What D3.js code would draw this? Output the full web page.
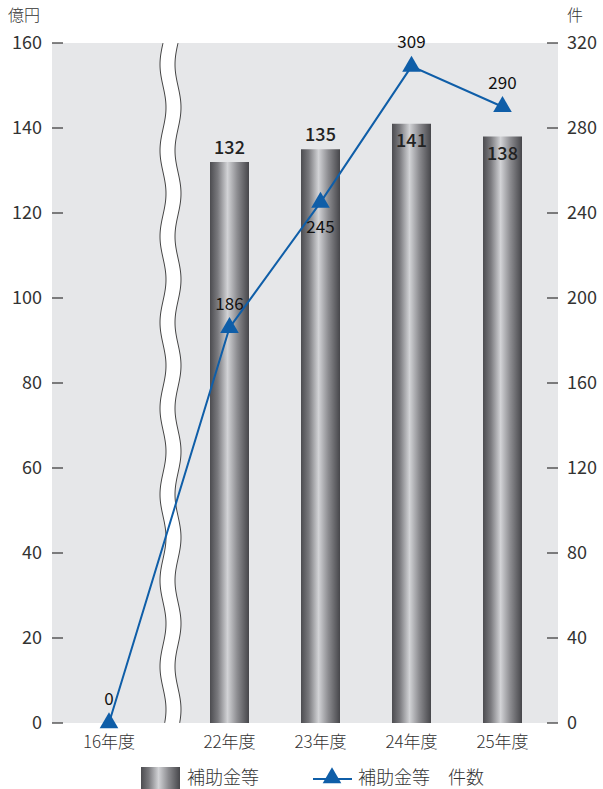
<!DOCTYPE html>
<html><head><meta charset="utf-8">
<script src="https://cdn.jsdelivr.net/npm/d3@7"></script>
<style>
html,body{margin:0;padding:0;background:#fff;}
svg{display:block;}
text{font-family:"Noto Sans CJK JP","Open Sans",sans-serif;}
</style></head>
<body><svg id="c" width="603" height="789"></svg>
<script>
const categories = ["16年度","22年度","23年度","24年度","25年度"];
const amountValues = [null, 132, 135, 141, 138];   // 億円 (bars)
const countValues = [0, 186, 245, 309, 290];       // 件 (line)
const leftTicks = [0,20,40,60,80,100,120,140,160];
const rightTicks = [0,40,80,120,160,200,240,280,320];
const countLabelPos = ["above","above","below","above","above"];
const amountLabelPos = [null,"above","above","inside","inside"];

const svg = d3.select("#c");
const L = 52, R = 558, T = 43, B = 723;
const numFont = "'Open Sans',sans-serif";

const yL = d3.scaleLinear().domain([0,160]).range([B,T]);
const yR = d3.scaleLinear().domain([0,320]).range([B,T]);
// broken axis: first category before the break, others evenly spaced after it
const xAfter = d3.scalePoint().domain(categories.slice(1)).range([229.5, 502.5]);
const x = c => c === categories[0] ? 109 : xAfter(c);
const barW = 39;

const defs = svg.append("defs");
const g = defs.append("linearGradient").attr("id","bg").attr("x1","0").attr("x2","1").attr("y1","0").attr("y2","0");
[[0,"#4c4c50"],[0.2,"#7a7a7e"],[0.45,"#d2d3d6"],[0.7,"#8c8c90"],[1,"#46464a"]].forEach(s=>g.append("stop").attr("offset",s[0]).attr("stop-color",s[1]));

svg.append("rect").attr("x",L).attr("y",T).attr("width",R-L).attr("height",B-T).attr("fill","#e6e7e9");

// break band
const waveY = d3.range(T, B+1, 2);
const amp = 3, period = 86;
const wl = waveY.map(y => [163 + amp*Math.sin((y-T)/period*2*Math.PI + Math.PI), y]);
const wr = waveY.map(y => [178 + amp*Math.sin((y-T)/period*2*Math.PI + Math.PI), y]);
svg.append("path").attr("d", d3.line()(wl.concat(wr.slice().reverse())) + "Z").attr("fill","#fff");
const ln = d3.line().curve(d3.curveBasis);
svg.append("path").attr("d", ln(wl)).attr("fill","none").attr("stroke","#444").attr("stroke-width",1);
svg.append("path").attr("d", ln(wr)).attr("fill","none").attr("stroke","#444").attr("stroke-width",1);

// bars
const barData = categories.map((c,i)=>({c, v:amountValues[i], pos:amountLabelPos[i]})).filter(d=>d.v!=null);
svg.selectAll("rect.bar").data(barData).join("rect").attr("class","bar")
  .attr("x",d=>x(d.c)-barW/2).attr("width",barW)
  .attr("y",d=>yL(d.v)).attr("height",d=>B-yL(d.v)).attr("fill","url(#bg)");

// axes ticks
const ax = svg.append("g");
leftTicks.forEach(t=>{
  ax.append("line").attr("x1",L).attr("x2",L+11).attr("y1",yL(t)).attr("y2",yL(t)).attr("stroke","#333").attr("stroke-width",1.2);
  ax.append("text").attr("x",42).attr("y",yL(t)).attr("dy","0.36em").attr("text-anchor","end")
    .attr("font-family",numFont).attr("font-size",18).attr("fill","#333").text(t);
});
rightTicks.forEach(t=>{
  ax.append("line").attr("x1",R-11).attr("x2",R).attr("y1",yR(t)).attr("y2",yR(t)).attr("stroke","#333").attr("stroke-width",1.2);
  ax.append("text").attr("x",567).attr("y",yR(t)).attr("dy","0.36em").attr("text-anchor","start")
    .attr("font-family",numFont).attr("font-size",18).attr("fill","#333").text(t);
});
svg.append("text").attr("x",8).attr("y",21).attr("font-size",16).attr("font-weight",300).attr("fill","#333").text("億円");
svg.append("text").attr("x",567).attr("y",21).attr("font-size",16).attr("font-weight",300).attr("fill","#333").text("件");

categories.forEach(c=>{
  svg.append("text").attr("x",x(c)).attr("y",742).attr("dy","0.36em").attr("text-anchor","middle")
    .attr("font-size",17).attr("font-weight",300).attr("fill","#333").text(c);
});

// bar labels
svg.selectAll("text.bl").data(barData).join("text").attr("class","bl")
  .attr("x",d=>x(d.c)).attr("y",d=>d.pos==="above"? yL(d.v)-8 : yL(d.v)+23)
  .attr("text-anchor","middle").attr("font-size",18).attr("font-weight",500).attr("fill","#222").text(d=>d.v);

// line
const lineData = categories.map((c,i)=>({c, v:countValues[i], pos:countLabelPos[i]}));
svg.append("path").attr("d", d3.line().x(d=>x(d.c)).y(d=>yR(d.v))(lineData))
  .attr("fill","none").attr("stroke","#0f5ea8").attr("stroke-width",2);
const tri = d3.symbol().type(d3.symbolTriangle).size(150);
svg.selectAll("path.tri").data(lineData).join("path").attr("class","tri")
  .attr("d",tri).attr("transform",d=>`translate(${x(d.c)},${yR(d.v)})`).attr("fill","#0f5ea8");
svg.selectAll("text.ll").data(lineData).join("text").attr("class","ll")
  .attr("x",d=>x(d.c)).attr("y",d=>d.pos==="above"? yR(d.v)-18 : yR(d.v)+31)
  .attr("text-anchor","middle").attr("font-family","'Liberation Sans Narrow',sans-serif")
  .attr("font-size",17).attr("fill","#111").text(d=>d.v);

// legend
svg.append("rect").attr("x",141).attr("y",767).attr("width",39).attr("height",22).attr("fill","url(#bg)");
svg.append("text").attr("x",187).attr("y",778).attr("dy","0.36em").attr("font-size",18).attr("font-weight",300).attr("fill","#333").text("補助金等");
svg.append("line").attr("x1",313).attr("x2",352).attr("y1",779).attr("y2",779).attr("stroke","#0f5ea8").attr("stroke-width",2);
svg.append("path").attr("d",tri).attr("transform","translate(332,778)").attr("fill","#0f5ea8");
svg.append("text").attr("x",358).attr("y",778).attr("dy","0.36em").attr("font-size",18).attr("font-weight",300).attr("fill","#333").text("補助金等　件数");
</script></body></html>
